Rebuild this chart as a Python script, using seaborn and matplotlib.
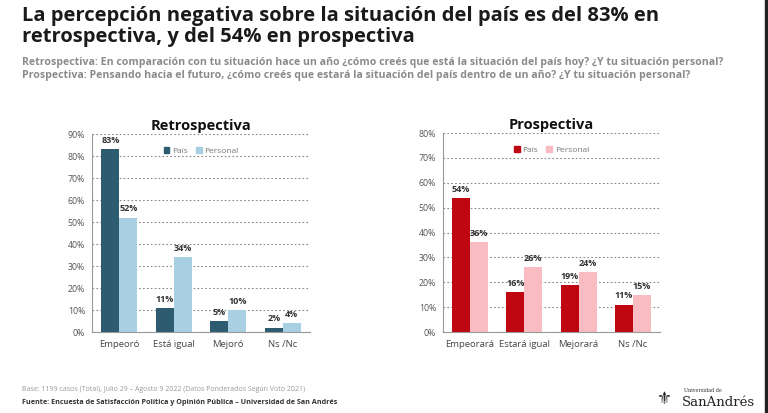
import pandas as pd
import matplotlib.pyplot as plt
import matplotlib.patches as mpatches
import seaborn as sns

# chart values
retro_cats = ["Empeoró", "Está igual", "Mejoró", "Ns /Nc"]
retro_pais = [83, 11, 5, 2]
retro_personal = [52, 34, 10, 4]

prosp_cats = ["Empeorará", "Estará igual", "Mejorará", "Ns /Nc"]
prosp_pais = [54, 16, 19, 11]
prosp_personal = [36, 26, 24, 15]

series_names = ["País", "Personal"]
retro_colors = ["#2D5C70", "#A8D0E2"]
prosp_colors = ["#BE0710", "#F9BCC2"]

title = "La percepción negativa sobre la situación del país es del 83% en\nretrospectiva, y del 54% en prospectiva"
sub1 = "Retrospectiva: En comparación con tu situación hace un año ¿cómo creés que está la situación del país hoy? ¿Y tu situación personal?"
sub2 = "Prospectiva: Pensando hacia el futuro, ¿cómo creés que estará la situación del país dentro de un año? ¿Y tu situación personal?"
base_note = "Base: 1199 casos (Total), Julio 29 – Agosto 9 2022 (Datos Ponderados Según Voto 2021)"
source_note = "Fuente: Encuesta de Satisfacción Política y Opinión Pública – Universidad de San Andrés"


def long_form(cats, pais, personal):
    rows = []
    for c, a, b in zip(cats, pais, personal):
        rows.append({"cat": c, "serie": series_names[0], "val": a})
        rows.append({"cat": c, "serie": series_names[1], "val": b})
    return pd.DataFrame(rows)


def draw_panel(ax, df, cats, colors, ymax, panel_title):
    sns.barplot(data=df, x="cat", y="val", hue="serie", order=cats,
                hue_order=series_names, palette=colors, width=0.66,
                gap=0, saturation=1, ax=ax, errorbar=None, linewidth=0)
    ax.set_ylim(0, ymax)
    ax.set_yticks(range(0, ymax + 1, 10))
    ax.set_yticklabels([f"{t}%" for t in range(0, ymax + 1, 10)],
                       fontsize=6.3, color="#555555")
    ax.tick_params(axis="x", labelsize=6.8, colors="#444444", length=0, pad=6)
    ax.tick_params(axis="y", length=3, color="#999999", pad=2)
    ax.set_xlabel("")
    ax.set_ylabel("")
    ax.grid(axis="y", linestyle=(0, (1.5, 2)), color="#888888", linewidth=0.8)
    ax.set_axisbelow(True)
    for s in ["top", "right"]:
        ax.spines[s].set_visible(False)
    ax.spines["left"].set_color("#999999")
    ax.spines["bottom"].set_color("#999999")
    for cont in ax.containers:
        ax.bar_label(cont, labels=[f"{v:.0f}%" for v in cont.datavalues],
                     fontsize=6.5, fontweight="bold", color="#333333", padding=3)
    ax.set_title(panel_title, fontsize=10.5, fontweight="bold", color="#111111", pad=3)
    handles = [mpatches.Patch(color=c) for c in colors]
    ax.legend(handles, series_names, loc="upper center", bbox_to_anchor=(0.5, 0.97),
              ncol=2, frameon=False, fontsize=6, labelcolor="#777777",
              handlelength=0.7, handleheight=0.7, handletextpad=0.3, columnspacing=1.0)


sns.set_style("white")
plt.rcParams["font.family"] = ["Open Sans", "DejaVu Sans"]

fig = plt.figure(figsize=(7.68, 4.13), dpi=100)

ax1 = fig.add_axes([0.1198, 0.1961, 0.2839, 0.4794])
draw_panel(ax1, long_form(retro_cats, retro_pais, retro_personal),
           retro_cats, retro_colors, 90, "Retrospectiva")

ax2 = fig.add_axes([0.5768, 0.1961, 0.2826, 0.4818])
draw_panel(ax2, long_form(prosp_cats, prosp_pais, prosp_personal),
           prosp_cats, prosp_colors, 80, "Prospectiva")

fig.text(0.029, 0.985, title, fontsize=14.5, fontweight="bold", color="#1a1a1a",
         va="top", ha="left", linespacing=1.05)
fig.text(0.029, 0.848, sub1, fontsize=7.6, fontweight="bold", color="#8a8a8a", va="center")
fig.text(0.029, 0.817, sub2, fontsize=7.6, fontweight="bold", color="#8a8a8a", va="center")
fig.text(0.029, 0.057, base_note, fontsize=5, color="#999999", va="center")
fig.text(0.029, 0.026, source_note, fontsize=5.2, fontweight="bold", color="#333333", va="center")

# logo
fig.text(0.865, 0.035, "⚜", fontsize=12, color="#222222", va="center", ha="center",
         family="DejaVu Sans")
fig.text(0.890, 0.055, "Universidad de", fontsize=3.5, color="#333333", va="center",
         family="DejaVu Serif")
fig.text(0.888, 0.018, "SanAndrés", fontsize=9.5, color="#222222", va="baseline",
         family="DejaVu Serif")

# dark strip on the right edge
fig.patches.append(mpatches.Rectangle((0.9961, 0), 0.0039, 1, transform=fig.transFigure,
                                      color="#222222", zorder=10))

fig.savefig("out.png", dpi=100)
